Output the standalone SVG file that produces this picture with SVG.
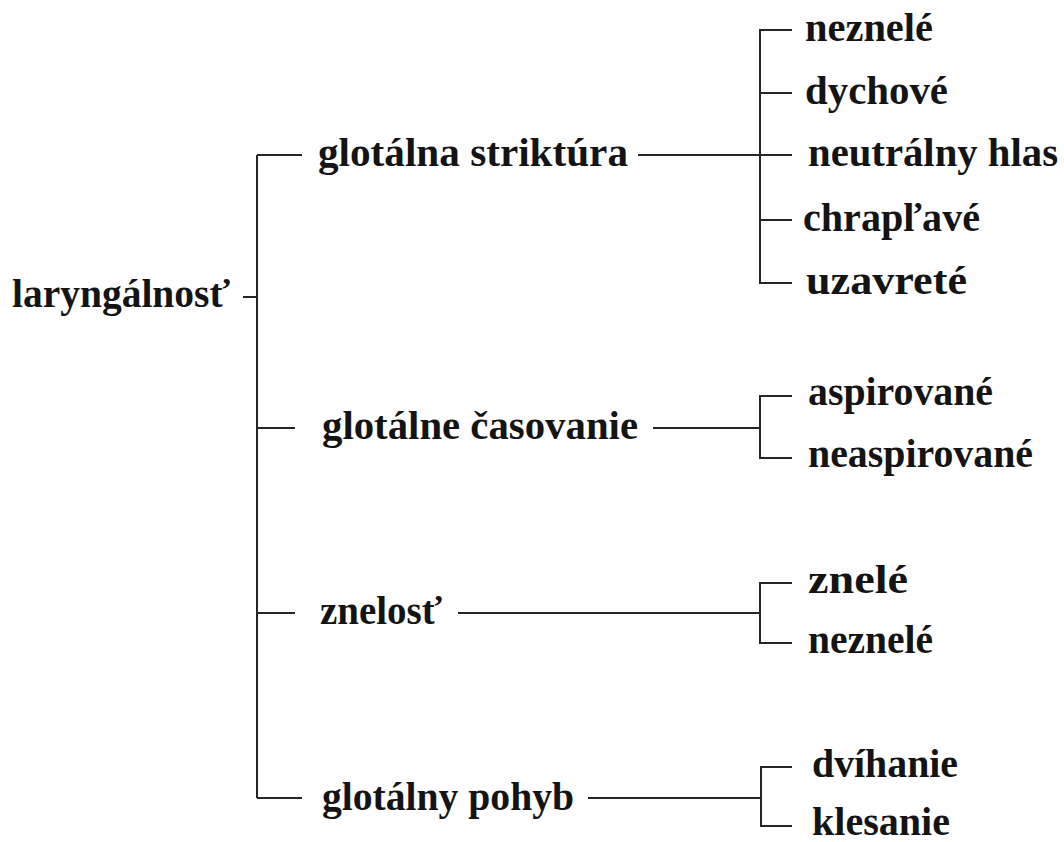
<svg xmlns="http://www.w3.org/2000/svg" width="1064" height="842" viewBox="0 0 1064 842">
  <style>
    .lbl { font-family: "Liberation Serif", "Times New Roman", serif; font-weight: bold; font-size: 40px; fill: #141414; }
    .ln { stroke: #262626; stroke-width: 2; fill: none; }
  </style>
  <rect width="1064" height="842" fill="#ffffff"/>

  <!-- connectors -->
  <g id="connectors" class="ln">
    <!-- root to trunk -->
    <path d="M243 297 H257"/>
    <path d="M257 155 V798"/>
    <!-- trunk to first level -->
    <path d="M257 155 H302"/>
    <path d="M257 428 H295"/>
    <path d="M257 613 H295"/>
    <path d="M257 798 H302"/>
    <!-- first level to brackets -->
    <path d="M638 155 H760"/>
    <path d="M653 428 H760"/>
    <path d="M458 613 H760"/>
    <path d="M588 798 H761"/>
    <!-- bracket: glotálna striktúra -->
    <path d="M792 30 H760 V283 H792"/>
    <path d="M760 93 H792"/>
    <path d="M760 155 H792"/>
    <path d="M760 220 H792"/>
    <!-- bracket: glotálne časovanie -->
    <path d="M792 396 H760 V458 H792"/>
    <!-- bracket: znelosť -->
    <path d="M792 583 H760 V643 H792"/>
    <!-- bracket: glotálny pohyb -->
    <path d="M792 767 H761 V826 H792"/>
  </g>

  <g id="n-root"><text class="lbl" x="12" y="307" textLength="218" lengthAdjust="spacingAndGlyphs">laryngálnosť</text></g>

  <g id="n-strikt"><text class="lbl" x="318" y="166" textLength="310" lengthAdjust="spacingAndGlyphs">glotálna striktúra</text></g>
  <g id="n-casov"><text class="lbl" x="322" y="439" textLength="316" lengthAdjust="spacingAndGlyphs">glotálne časovanie</text></g>
  <g id="n-znelost"><text class="lbl" x="320" y="624" textLength="122" lengthAdjust="spacingAndGlyphs">znelosť</text></g>
  <g id="n-pohyb"><text class="lbl" x="322" y="810" textLength="252" lengthAdjust="spacingAndGlyphs">glotálny pohyb</text></g>

  <g id="n-neznele1"><text class="lbl" x="805" y="41" textLength="128" lengthAdjust="spacingAndGlyphs">neznelé</text></g>
  <g id="n-dychove"><text class="lbl" x="805" y="104" textLength="143" lengthAdjust="spacingAndGlyphs">dychové</text></g>
  <g id="n-neutral"><text class="lbl" x="808" y="166" textLength="250" lengthAdjust="spacingAndGlyphs">neutrálny hlas</text></g>
  <g id="n-chrap"><text class="lbl" x="803" y="231" textLength="177" lengthAdjust="spacingAndGlyphs">chrapľavé</text></g>
  <g id="n-uzavr"><text class="lbl" x="806" y="294" textLength="161" lengthAdjust="spacingAndGlyphs">uzavreté</text></g>

  <g id="n-aspir"><text class="lbl" x="808" y="405" textLength="185" lengthAdjust="spacingAndGlyphs">aspirované</text></g>
  <g id="n-neaspir"><text class="lbl" x="808" y="467" textLength="225" lengthAdjust="spacingAndGlyphs">neaspirované</text></g>

  <g id="n-znele"><text class="lbl" x="808" y="593" textLength="100" lengthAdjust="spacingAndGlyphs">znelé</text></g>
  <g id="n-neznele2"><text class="lbl" x="808" y="653" textLength="125" lengthAdjust="spacingAndGlyphs">neznelé</text></g>

  <g id="n-dvih"><text class="lbl" x="812" y="777" textLength="146" lengthAdjust="spacingAndGlyphs">dvíhanie</text></g>
  <g id="n-kles"><text class="lbl" x="812" y="835" textLength="138" lengthAdjust="spacingAndGlyphs">klesanie</text></g>
</svg>
